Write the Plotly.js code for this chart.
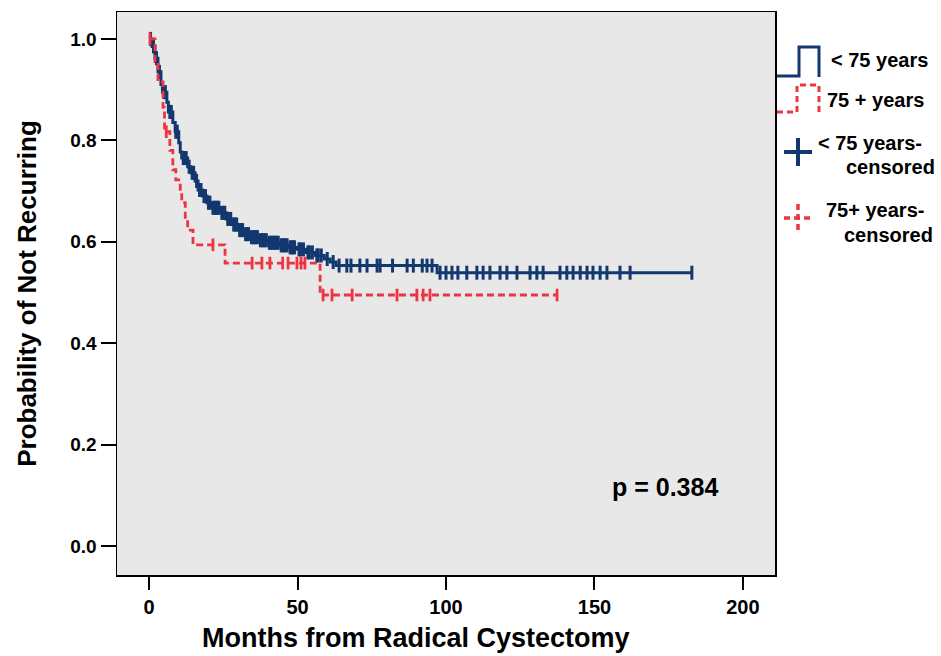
<!DOCTYPE html>
<html>
<head>
<meta charset="utf-8">
<script src="https://cdn.plot.ly/plotly-3.0.1.min.js"></script>
<style>html,body{margin:0;padding:0;background:#fff;}#chart{width:941px;height:656px;}</style>
</head>
<body>
<div id="chart"></div>
<script>
// ---- Data ----
const blueTimes = [1, 2, 3, 4, 4.5, 6, 6.5, 8, 8.8, 10, 10.5, 11, 13, 14, 15.5, 16.5, 18, 19.5, 21, 24, 26, 28, 30, 32, 34, 37, 40, 44, 47, 50, 53, 56, 59, 61, 63, 97];
const blueSurv  = [0.985, 0.962, 0.935, 0.91, 0.895, 0.875, 0.856, 0.835, 0.817, 0.795, 0.777, 0.765, 0.748, 0.736, 0.72, 0.702, 0.69, 0.677, 0.667, 0.657, 0.645, 0.634, 0.623, 0.615, 0.609, 0.603, 0.598, 0.593, 0.589, 0.585, 0.579, 0.573, 0.566, 0.56, 0.553, 0.539];
const blueCensor = [0.5, 1.5, 2.5, 3.5, 5, 5.5, 7, 7.5, 9, 9.5, 11.5, 12, 12.5, 13.5, 14.5, 15, 16, 17, 17.5, 18.5, 19, 20, 20.5, 21.5, 22, 22.5, 23, 23.5, 24.5, 25, 25.5, 26.5, 27, 27.5, 28.5, 29, 29.5, 30.5, 31, 31.5, 32.5, 33, 33.5, 34.5, 35, 35.5, 36, 36.5, 37.5, 38, 38.5, 39, 39.5, 40.5, 41, 41.5, 42, 42.5, 43, 43.5, 44.5, 45, 45.5, 46, 46.5, 47.5, 48, 48.5, 49, 50.5, 51, 52, 53.5, 54, 55, 56.5, 57, 58, 60, 62, 64, 66.6, 68, 71, 73.4, 76.8, 77.8, 82, 86.9, 89, 92, 93.6, 95.3, 98, 100, 102, 104, 107, 110.4, 112.5, 114.8, 118.2, 120.5, 123.9, 128.3, 130.6, 132.7, 138.4, 140.7, 142.8, 145.2, 147.5, 149.5, 151.9, 154.2, 158.6, 162, 182.8];
const blueEnd = 182.8;

const redTimes = [2, 3, 4.7, 5.2, 7, 8, 9, 10.5, 11, 12.2, 13, 14.8, 25.6, 57.6];
const redSurv  = [0.955, 0.915, 0.865, 0.817, 0.78, 0.742, 0.722, 0.698, 0.677, 0.645, 0.623, 0.594, 0.558, 0.495];
const redCensor = [0.3, 5.8, 21.5, 34.7, 38, 40.7, 45, 46.8, 49.8, 51.2, 52.5, 58.6, 61.6, 68.4, 83.5, 90.2, 92.3, 94.6, 137.4];
const redEnd = 137.4;

const xTicks = [0, 50, 100, 150, 200];
const yTicks = [0.0, 0.2, 0.4, 0.6, 0.8, 1.0];
const yTickText = ['0.0', '0.2', '0.4', '0.6', '0.8', '1.0'];

const seriesNames = ['< 75 years', '75 + years', '< 75 years-censored', '75+ years-censored'];
const pText = 'p = 0.384';
const xTitle = 'Months from Radical Cystectomy';
const yTitle = 'Probability of Not Recurring';

// ---- Styles ----
const BLUE = '#12386f';
const RED = '#ee3441';
const FONT = 'Liberation Sans, Arial, Helvetica, sans-serif';

function stepAt(times, surv, t) {
  let v = 1.0;
  for (let i = 0; i < times.length; i++) { if (times[i] <= t) v = surv[i]; }
  return v;
}

const blueLine = {
  x: [0].concat(blueTimes, [blueEnd]),
  y: [1.0].concat(blueSurv, [blueSurv[blueSurv.length - 1]]),
  mode: 'lines', line: {shape: 'hv', color: BLUE, width: 3},
  name: seriesNames[0], showlegend: false, hoverinfo: 'skip'
};
const blueMarks = {
  x: blueCensor, y: blueCensor.map(t => stepAt(blueTimes, blueSurv, t)),
  mode: 'markers', marker: {symbol: 'line-ns-open', size: 10, color: BLUE, line: {color: BLUE, width: 3}},
  name: seriesNames[2], showlegend: false, hoverinfo: 'skip'
};
const redLine = {
  x: [0].concat(redTimes, [redEnd]),
  y: [1.0].concat(redSurv, [redSurv[redSurv.length - 1]]),
  mode: 'lines', line: {shape: 'hv', color: RED, width: 2.8, dash: '7px,4px'},
  name: seriesNames[1], showlegend: false, hoverinfo: 'skip'
};
const redMarks = {
  x: redCensor, y: redCensor.map(t => stepAt(redTimes, redSurv, t)),
  mode: 'markers', marker: {symbol: 'line-ns-open', size: 9, color: RED, line: {color: RED, width: 2.8}},
  name: seriesNames[3], showlegend: false, hoverinfo: 'skip'
};

// plot area in pixels: left 117, right 775, top 12, bottom 575
const L = 117, R = 775, T = 12, B = 575;
const px = x => (x - L) / (R - L);
const py = y => (B - y) / (B - T);
function path(pts) {
  return pts.map((p, i) => (i ? 'L' : 'M') + px(p[0]).toFixed(5) + ',' + py(p[1]).toFixed(5)).join(' ');
}

const shapes = [
  {type: 'path', xref: 'paper', yref: 'paper', path: path([[777, 76], [799, 76], [799, 47], [819, 47], [819, 77]]),
   line: {color: BLUE, width: 3}},
  {type: 'path', xref: 'paper', yref: 'paper', path: path([[777, 112], [797, 112], [797, 85], [819, 85], [819, 113]]),
   line: {color: RED, width: 3, dash: '6px,4px'}},
  {type: 'line', xref: 'paper', yref: 'paper', x0: px(784), x1: px(812), y0: py(152), y1: py(152), line: {color: BLUE, width: 4}},
  {type: 'line', xref: 'paper', yref: 'paper', x0: px(798), x1: px(798), y0: py(138), y1: py(166), line: {color: BLUE, width: 4}},
  {type: 'line', xref: 'paper', yref: 'paper', x0: px(784), x1: px(812), y0: py(218), y1: py(218), line: {color: RED, width: 3.5, dash: '6px,4px'}},
  {type: 'line', xref: 'paper', yref: 'paper', x0: px(798), x1: px(798), y0: py(204), y1: py(233), line: {color: RED, width: 3.5, dash: '6px,4px'}}
];

function ann(text, x, y, xanchor, size) {
  return {text: text, xref: 'paper', yref: 'paper', x: px(x), y: py(y), xanchor: xanchor, yanchor: 'middle',
          showarrow: false, font: {family: FONT, size: size, color: '#000', weight: 700}};
}
const annotations = [
  ann(seriesNames[0], 829, 60, 'left', 20),
  ann(seriesNames[1], 825, 100, 'left', 20),
  ann('< 75 years-', 816, 143, 'left', 20),
  ann('censored', 937, 167, 'right', 20),
  ann('75+ years-', 824, 210, 'left', 20),
  ann('censored', 935, 235, 'right', 20),
  ann(xTitle, 416, 638, 'center', 27),
  {text: pText, xref: 'x', yref: 'y', x: 173.7, y: 0.116, xanchor: 'center', yanchor: 'middle', showarrow: false,
   font: {family: FONT, size: 25, color: '#000', weight: 700}}
];

const layout = {
  width: 941, height: 656,
  margin: {l: L, r: 941 - R, t: T, b: 656 - B, pad: 0},
  paper_bgcolor: '#ffffff', plot_bgcolor: '#e8e8e8',
  showlegend: false,
  font: {family: FONT, color: '#000'},
  xaxis: {
    range: [-10.8, 210.8], tickvals: xTicks, ticktext: xTicks.map(String),
    showgrid: false, zeroline: false, showline: true, mirror: true, linecolor: '#000', linewidth: 1.5,
    ticks: 'outside', ticklen: 13, tickwidth: 2, tickcolor: '#000',
    tickfont: {family: FONT, size: 20, color: '#000', weight: 700},
    automargin: false, fixedrange: true
  },
  yaxis: {
    range: [-0.057, 1.053], tickvals: yTicks, ticktext: yTickText,
    showgrid: false, zeroline: false, showline: true, mirror: true, linecolor: '#000', linewidth: 1.5,
    ticks: 'outside', ticklen: 15, tickwidth: 2, tickcolor: '#000',
    tickfont: {family: FONT, size: 19, color: '#000', weight: 700},
    title: {text: yTitle, standoff: 26, font: {family: FONT, size: 26, color: '#000', weight: 700}},
    automargin: false, fixedrange: true
  },
  shapes: shapes,
  annotations: annotations
};

Plotly.newPlot('chart', [blueLine, blueMarks, redLine, redMarks], layout, {staticPlot: true, displayModeBar: false});
</script>
</body>
</html>
